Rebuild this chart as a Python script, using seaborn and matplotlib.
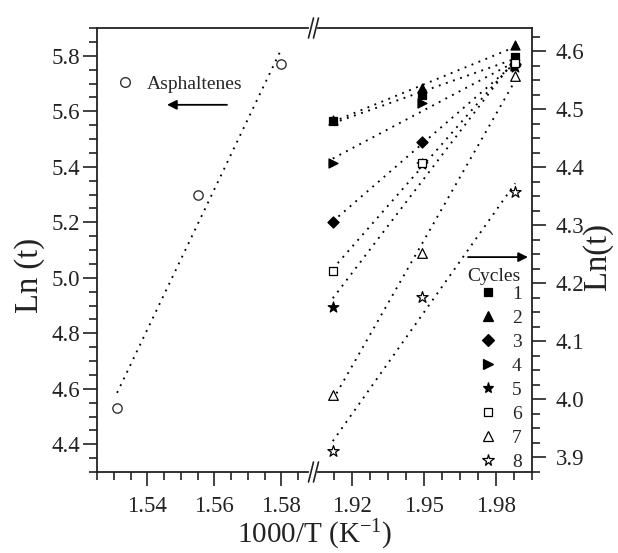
import numpy as np
import pandas as pd
import matplotlib
matplotlib.use("Agg")
import matplotlib.pyplot as plt
import seaborn as sns
from matplotlib.ticker import MultipleLocator, FormatStrFormatter
from matplotlib.lines import Line2D

# ---------------- data ----------------
asph_x = [1.531, 1.555, 1.580]
asph_y = [4.53, 5.30, 5.77]

cycle_x = [1.912, 1.949, 1.988]
cycle_names = ["1", "2", "3", "4", "5", "6", "7", "8"]
cycle1 = [4.479, 4.524, 4.590]
cycle2 = [4.481, 4.536, 4.610]
cycle3 = [4.305, 4.443, 4.578]
cycle4 = [4.408, 4.510, 4.575]
cycle5 = [4.159, 4.405, 4.572]
cycle6 = [4.221, 4.408, 4.580]
cycle7 = [4.007, 4.252, 4.557]
cycle8 = [3.912, 4.176, 4.357]
cycles = [cycle1, cycle2, cycle3, cycle4, cycle5, cycle6, cycle7, cycle8]

# ---------------- style ----------------
sns.set_style("ticks")
plt.rcParams["font.family"] = ["Liberation Serif", "DejaVu Serif"]
plt.rcParams["mathtext.fontset"] = "custom"
plt.rcParams["mathtext.rm"] = "Liberation Serif"
plt.rcParams["mathtext.it"] = "Liberation Serif:italic"

markers = ["s", "^", "D", ">", "*", "s", "^", "*"]
filled = [True, True, True, True, True, False, False, False]
sizes = [32, 42, 32, 42, 64, 32, 48, 72]

W, H = 618, 553
fig = plt.figure(figsize=(W / 100, H / 100), dpi=100)
fig.patch.set_facecolor("white")

ax_l, ax_r, ax_top, ax_bot = 97, 532, 28, 472
brk_l, brk_r = 308, 318

ax1 = fig.add_axes([ax_l / W, 1 - ax_bot / H, (brk_l - ax_l) / W, (ax_bot - ax_top) / H])
ax2 = fig.add_axes([brk_r / W, 1 - ax_bot / H, (ax_r - brk_r) / W, (ax_bot - ax_top) / H])

line_kws = dict(color="black", lw=1.35, linestyle=(0, (1, 3.0)))

# ---------- left: asphaltenes ----------
sns.regplot(x=asph_x, y=asph_y, ax=ax1, scatter=False, ci=None, truncate=True,
            line_kws=line_kws)
sns.scatterplot(x=asph_x, y=asph_y, ax=ax1, marker="o", s=45, facecolor="white",
                edgecolor="#333333", linewidth=1.0, zorder=5)
ax1.set_xlim(1.525, 1.525 + (brk_l - ax_l) / 3350)
ax1.set_ylim(4.3, 5.9)

# ---------- right: cycles ----------
for vals in cycles:
    sns.regplot(x=cycle_x, y=vals, ax=ax2, scatter=False, ci=None, truncate=True,
                line_kws=line_kws)
for i, vals in enumerate(cycles):
    fc = "black" if filled[i] else "white"
    sns.scatterplot(x=cycle_x, y=vals, ax=ax2, marker=markers[i], s=sizes[i],
                    facecolor=fc, edgecolor="black", linewidth=0.9,
                    zorder=5 + i)
ax2.set_xlim(1.995 - (ax_r - brk_r) / 2400, 1.995)
ax2.set_ylim(3.875, 4.64)

# ---------- axes styling ----------
for ax in (ax1, ax2):
    ax.set_xlabel("")
    ax.set_ylabel("")
    for s in ax.spines.values():
        s.set_linewidth(1.3)
        s.set_color("#222222")
    ax.tick_params(which="major", direction="out", length=10, width=1.2,
                   labelsize=16.5, colors="#222222")
    ax.tick_params(which="minor", direction="out", length=5.5, width=1.2,
                   colors="#222222")
    ax.tick_params(axis="x", which="major", pad=7)

ax1.spines["right"].set_visible(False)
ax2.spines["left"].set_visible(False)
ax1.tick_params(axis="y", which="major", pad=2)
ax1.xaxis.set_major_locator(MultipleLocator(0.02))
ax1.xaxis.set_minor_locator(MultipleLocator(0.005))
ax1.xaxis.set_major_formatter(FormatStrFormatter("%.2f"))
ax1.yaxis.set_major_locator(MultipleLocator(0.2))
ax1.yaxis.set_minor_locator(MultipleLocator(0.05))
ax1.yaxis.set_major_formatter(FormatStrFormatter("%.1f"))

ax2.yaxis.tick_right()
ax2.tick_params(axis="y", which="both", left=False, right=True)
ax2.tick_params(axis="y", which="major", pad=7)
ax2.xaxis.set_major_locator(MultipleLocator(0.03))
ax2.xaxis.set_minor_locator(MultipleLocator(0.0075))
ax2.xaxis.set_major_formatter(FormatStrFormatter("%.2f"))
ax2.yaxis.set_major_locator(MultipleLocator(0.1))
ax2.yaxis.set_minor_locator(MultipleLocator(0.025))
ax2.yaxis.set_major_formatter(FormatStrFormatter("%.1f"))

# axis labels
fig.text(30 / W, 1 - 275 / H, "Ln (t)", fontsize=23.5, rotation=90, ha="center",
         va="center", color="#222222")
fig.text(598 / W, 1 - 257 / H, "Ln(t)", fontsize=23.5, rotation=90, ha="center",
         va="center", color="#222222")
fig.text(315 / W, 1 - 535 / H, "1000/T (K$^{-1}$)", fontsize=21, ha="center",
         va="center", color="#222222")

# break marks
for cx in (311, 316):
    for cy in (ax_top, ax_bot):
        fig.add_artist(Line2D([(cx - 2.5) / W, (cx + 2.5) / W],
                              [1 - (cy + 10) / H, 1 - (cy - 10) / H],
                              color="#222222", lw=1.2))

# ---------- legends & arrows ----------
h_asph = [Line2D([], [], marker="o", ls="none", markersize=7, markerfacecolor="white",
                 markeredgecolor="#333333", markeredgewidth=1.0)]
leg1 = ax1.legend(h_asph, ["Asphaltenes"], frameon=False, fontsize=14,
                  loc="center left", bbox_to_anchor=(115 / W, 1 - 84 / H),
                  bbox_transform=fig.transFigure, borderpad=0, borderaxespad=0,
                  handlelength=1.0, handletextpad=0.65)
ax1.annotate("", xy=(0.332, 0.827), xytext=(0.616, 0.827), xycoords="axes fraction",
             arrowprops=dict(arrowstyle="-|>", color="black", lw=1.3,
                             mutation_scale=14, shrinkA=0, shrinkB=0))

h_cyc = []
for i in range(8):
    fc = "black" if filled[i] else "white"
    h_cyc.append(Line2D([], [], marker=markers[i], ls="none",
                        markersize=np.sqrt(sizes[i]), markerfacecolor=fc,
                        markeredgecolor="black", markeredgewidth=0.9))
leg2 = ax2.legend(h_cyc, cycle_names, frameon=False, fontsize=14,
                  loc="upper left", bbox_to_anchor=(478 / W, 1 - 285 / H),
                  bbox_transform=fig.transFigure, borderpad=0, borderaxespad=0,
                  handlelength=1.0, handletextpad=0.75, labelspacing=0.33)
ax2.text(0.822, 0.441, "Cycles", transform=ax2.transAxes, fontsize=14,
         ha="center", va="center", color="#222222")
ax2.annotate("", xy=(0.981, 0.484), xytext=(0.701, 0.484), xycoords="axes fraction",
             arrowprops=dict(arrowstyle="-|>", color="black", lw=1.3,
                             mutation_scale=14, shrinkA=0, shrinkB=0))

fig.savefig("out.png", dpi=100)
